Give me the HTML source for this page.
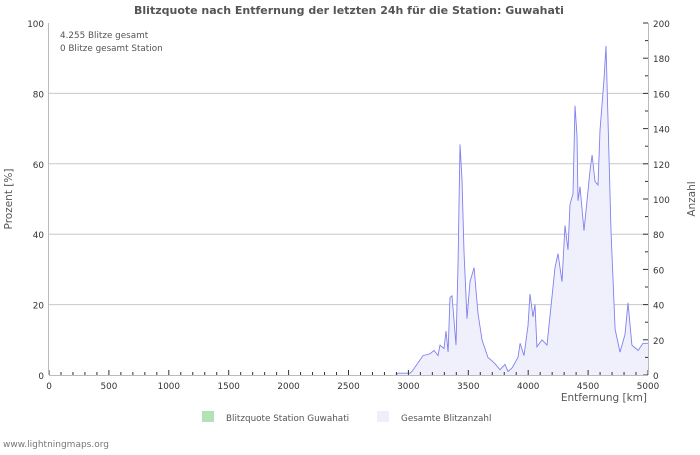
<!DOCTYPE html>
<html><head><meta charset="utf-8"><style>
body{margin:0;background:#fff;width:700px;height:450px;overflow:hidden;font-family:"Liberation Sans","DejaVu Sans",sans-serif}
svg text{font-family:"DejaVu Sans","Liberation Sans",sans-serif}
</style></head><body>
<svg id="c" width="700" height="450">
<text x="349" y="14" text-anchor="middle" font-size="11" font-weight="bold" fill="#555">Blitzquote nach Entfernung der letzten 24h für die Station: Guwahati</text>
<text x="60" y="38" font-size="8.8" fill="#555">4.255 Blitze gesamt</text>
<text x="60" y="51" font-size="8.8" fill="#555">0 Blitze gesamt Station</text>
<text transform="translate(12,199) rotate(-90)" text-anchor="middle" font-size="10.5" fill="#555">Prozent   [%]</text>
<text transform="translate(695,199) rotate(-90)" text-anchor="middle" font-size="10.5" fill="#555">Anzahl</text>
<text x="647" y="401" text-anchor="end" font-size="10.5" fill="#555">Entfernung   [km]</text>
<g id="grid"></g><g id="series"></g><g id="axes"></g>
<rect x="202" y="411" width="12" height="11" fill="#b5e2b5"/>
<text x="226" y="421" font-size="8.8" fill="#555">Blitzquote Station Guwahati</text>
<rect x="377" y="411" width="12" height="11" fill="#eeeefc"/>
<text x="401" y="421" font-size="8.8" fill="#555">Gesamte Blitzanzahl</text>
<text x="3" y="447" font-size="9" fill="#777">www.lightningmaps.org</text>
</svg>
<script>
const distKm=[2900,2913,3013,3030,3122,3180,3214,3247,3264,3297,3314,3331,3347,3364,3397,3414,3431,3447,3464,3489,3514,3548,3564,3581,3614,3664,3715,3765,3806,3831,3865,3915,3932,3965,3998,4015,4040,4057,4073,4115,4157,4190,4224,4249,4282,4307,4332,4349,4374,4391,4407,4416,4432,4466,4491,4516,4533,4558,4583,4599,4633,4649,4666,4691,4725,4766,4808,4833,4866,4917,4958,5000];
const counts=[0,1,1,2,11,12,14,11,17,15,25,13,44,45,17,62,131,111,70,32,53,61,48,35,20,10,7,3,6,2,4,10,18,11,28,46,33,40,16,20,17,39,61,69,53,85,71,97,103,153,136,99,107,82,99,116,125,110,108,139,168,187,145,82,26,13,23,41,17,14,18,18];
const xTicks=[0,500,1000,1500,2000,2500,3000,3500,4000,4500,5000];
const pctTicks=[0,20,40,60,80,100];
const cntTicks=[0,20,40,60,80,100,120,140,160,180,200];
const X0=49,X1=648,Y0=375,Y1=23;
const xs=v=>X0+(v/5000)*(X1-X0);
const yp=v=>Y0-(v/100)*(Y0-Y1);
const yc=v=>Y0-(v/200)*(Y0-Y1);
const NS="http://www.w3.org/2000/svg";
function mk(t,a,p){const e=document.createElementNS(NS,t);for(const k in a)e.setAttribute(k,a[k]);p.appendChild(e);return e;}
const grid=document.getElementById('grid'),axes=document.getElementById('axes'),ser=document.getElementById('series');
pctTicks.forEach(v=>{
 if(v>0&&v<100){const l=mk('line',{x1:X0,x2:X1,y1:yp(v),y2:yp(v),stroke:'#c8c8c8','stroke-width':1},grid);
 
 }
 const t=mk('text',{x:X0-5,y:yp(v)+4,'text-anchor':'end','font-size':8.8,fill:'#333'},axes);t.textContent=v;
 
 
});
cntTicks.forEach(v=>{
 const t=mk('text',{x:X1+5,y:yc(v)+4,'font-size':8.8,fill:'#333'},axes);t.textContent=v;
 
 
});
for(let v=0;v<=200;v+=10){mk('line',{x1:X1-(v%20?3:5),x2:X1,y1:yc(v),y2:yc(v),stroke:'#333'},axes);}
for(let v=0;v<=5000;v+=100){mk('line',{x1:xs(v),x2:xs(v),y1:Y0,y2:Y0-(v%500?3:5),stroke:'#333'},axes);}
xTicks.forEach(v=>{const t=mk('text',{x:xs(v),y:Y0+14,'text-anchor':'middle','font-size':8.8,fill:'#333'},axes);t.textContent=v;
 
 });
mk('line',{x1:X0,x2:X1,y1:Y0+.5,y2:Y0+.5,stroke:'#bbb'},axes);
mk('line',{x1:X0-.5,x2:X0-.5,y1:Y1,y2:Y0,stroke:'#bbb'},axes);
mk('line',{x1:X1+.5,x2:X1+.5,y1:Y1,y2:Y0,stroke:'#bbb'},axes);
let pts=distKm.map((d,i)=>xs(d).toFixed(1)+','+yc(counts[i]).toFixed(1));
const area=mk('polygon',{points:xs(distKm[0])+','+Y0+' '+pts.join(' ')+' '+xs(distKm[distKm.length-1])+','+Y0,fill:'#f0f0fc'},ser);


const line=mk('polyline',{points:pts.join(' '),fill:'none',stroke:'#8080f0','stroke-width':0.9},ser);


</script>
</body></html>
